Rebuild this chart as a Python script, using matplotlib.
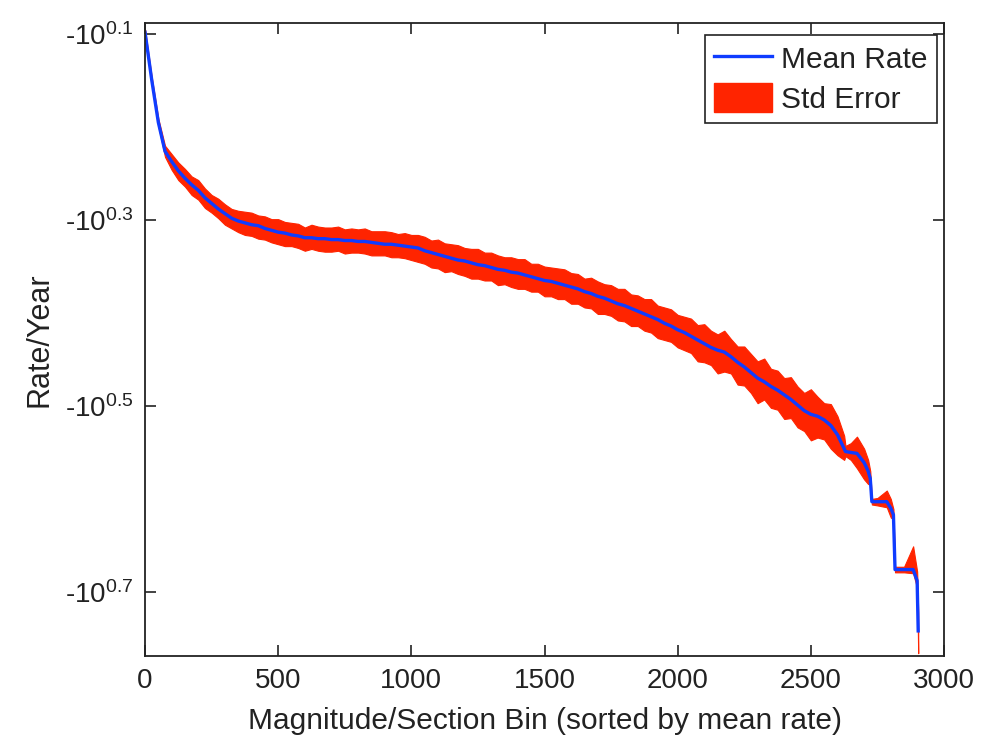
import matplotlib
matplotlib.use("Agg")
import matplotlib.pyplot as plt
import numpy as np
from matplotlib.patches import Patch
from matplotlib.lines import Line2D

plt.rcParams['font.family'] = ['Liberation Sans', 'DejaVu Sans']
plt.rcParams['mathtext.default'] = 'regular'

# bin index (sorted by mean rate)
bins = [0, 25, 50, 75, 100,
        125, 150, 175, 200, 225, 250, 275, 300, 325, 350,
        375, 400, 425, 450, 475, 500, 525, 550, 575, 600, 625, 650, 675,
        700, 725, 750, 775, 800, 825, 850, 875, 900, 925, 950, 975, 1000,
        1025, 1050, 1075, 1100, 1125, 1150, 1175, 1200, 1225, 1250, 1275,
        1300, 1325, 1350, 1375, 1400, 1425, 1450, 1475, 1500,
        1525, 1550, 1575, 1600, 1625, 1650, 1675, 1700, 1725, 1750, 1775,
        1800, 1825, 1850, 1875, 1900, 1925, 1950, 1975, 2000,
        2025, 2050, 2075, 2100, 2125, 2150, 2175, 2200, 2225, 2250, 2275,
        2300, 2325, 2350, 2375, 2400, 2425, 2450, 2475, 2500, 2525, 2550,
        2575, 2600,
        2625, 2630, 2650, 2673, 2700, 2715, 2723, 2729, 2750, 2785, 2800,
        2810, 2816, 2850, 2884, 2899, 2903]

# mean rate, as exponent of 10 (rate = -10^e)
mean_exp = [0.098, 0.149, 0.195, 0.226, 0.237,
            0.247, 0.255, 0.262, 0.268, 0.276, 0.282, 0.288, 0.293, 0.298, 0.301,
            0.303, 0.305, 0.306, 0.309, 0.311, 0.313, 0.314, 0.316, 0.317, 0.319,
            0.319, 0.320, 0.320, 0.321, 0.321, 0.322, 0.322, 0.323, 0.323, 0.324,
            0.325, 0.326, 0.326, 0.327, 0.328, 0.329,
            0.330, 0.333, 0.335, 0.337, 0.339, 0.341, 0.343, 0.344, 0.346, 0.348,
            0.349, 0.351, 0.353, 0.354, 0.356, 0.357, 0.359, 0.361, 0.363, 0.365,
            0.366, 0.368, 0.370, 0.372, 0.374, 0.377, 0.379, 0.382, 0.384, 0.387,
            0.390, 0.392, 0.395, 0.398, 0.401, 0.404, 0.407, 0.411, 0.414, 0.418,
            0.421, 0.425, 0.429, 0.433, 0.437, 0.440, 0.442, 0.447, 0.453, 0.458,
            0.464, 0.470, 0.474, 0.479, 0.483, 0.488, 0.493, 0.499, 0.505, 0.509,
            0.511, 0.515, 0.521, 0.531,
            0.546, 0.549, 0.550, 0.551, 0.561, 0.570, 0.578, 0.603, 0.603, 0.603,
            0.610, 0.617, 0.676, 0.676, 0.676, 0.688, 0.742]

# standard error above / below the mean (same units)
err_hi = [0.003, 0.003, 0.004, 0.006, 0.008,
          0.009, 0.010, 0.009, 0.011, 0.010, 0.009, 0.011, 0.010, 0.010, 0.011,
          0.012, 0.013, 0.011, 0.013, 0.012, 0.014, 0.012, 0.013, 0.013, 0.011,
          0.014, 0.013, 0.012, 0.013, 0.014, 0.012, 0.013, 0.013, 0.014, 0.012,
          0.013, 0.014, 0.013, 0.012, 0.014, 0.013,
          0.014, 0.015, 0.013, 0.016, 0.014, 0.015, 0.016, 0.014, 0.015, 0.017,
          0.014, 0.016, 0.015, 0.014, 0.016, 0.015, 0.017, 0.014, 0.016, 0.015,
          0.015, 0.016, 0.017, 0.015, 0.016, 0.014, 0.017, 0.016, 0.015, 0.017,
          0.016, 0.018, 0.015, 0.017, 0.016, 0.019, 0.015, 0.017, 0.018, 0.016,
          0.017, 0.019, 0.016, 0.021, 0.018, 0.017, 0.023, 0.019, 0.017, 0.022,
          0.020, 0.018, 0.025, 0.019, 0.021, 0.018, 0.024, 0.020, 0.019, 0.027,
          0.021, 0.018, 0.023, 0.020,
          0.014, 0.006, 0.010, 0.018, 0.015, 0.012, 0.008, 0.003, 0.004, 0.012,
          0.010, 0.006, 0.003, 0.003, 0.025, 0.010, 0.020]
err_lo = [0.003, 0.004, 0.004, 0.006, 0.009,
          0.010, 0.009, 0.011, 0.010, 0.011, 0.010, 0.010, 0.012, 0.011, 0.012,
          0.013, 0.012, 0.014, 0.012, 0.013, 0.013, 0.014, 0.012, 0.013, 0.014,
          0.012, 0.013, 0.014, 0.013, 0.012, 0.014, 0.013, 0.012, 0.013, 0.014,
          0.013, 0.012, 0.014, 0.013, 0.013, 0.014,
          0.015, 0.014, 0.016, 0.015, 0.017, 0.014, 0.015, 0.016, 0.017, 0.015,
          0.016, 0.014, 0.017, 0.015, 0.016, 0.017, 0.015, 0.016, 0.014, 0.017,
          0.016, 0.017, 0.015, 0.018, 0.016, 0.017, 0.016, 0.019, 0.017, 0.016,
          0.018, 0.017, 0.019, 0.016, 0.018, 0.017, 0.020, 0.018, 0.017, 0.019,
          0.019, 0.018, 0.023, 0.020, 0.019, 0.025, 0.021, 0.018, 0.024, 0.020,
          0.022, 0.027, 0.019, 0.023, 0.021, 0.026, 0.020, 0.024, 0.022, 0.028,
          0.023, 0.021, 0.025, 0.022,
          0.012, 0.005, 0.008, 0.016, 0.018, 0.014, 0.006, 0.003, 0.004, 0.006,
          0.010, 0.005, 0.003, 0.003, 0.004, 0.008, 0.024]

yticks = [0.1, 0.3, 0.5, 0.7]
xticks = [0, 500, 1000, 1500, 2000, 2500, 3000]

red = '#ff2400'
blue = '#0f3cff'
ink = '#222222'

fig = plt.figure(figsize=(9.88, 7.36), dpi=100)
ax = fig.add_axes([0.1468, 0.1087, 0.8087, 0.8605])

m = np.array(mean_exp)
ax.fill_between(bins, m - np.array(err_hi), m + np.array(err_lo),
                color=red, linewidth=0.8, edgecolor=red)
ax.plot(bins, mean_exp, color=blue, linewidth=2.4)

ax.set_xlim(0, 3000)
ax.set_ylim(0.769, 0.0876)
ax.set_xticks(xticks)
ax.set_xticklabels([str(t) for t in xticks])
ax.set_yticks(yticks)
ax.set_yticklabels(['-10$^{%g}$' % t for t in yticks])
ax.tick_params(direction='in', length=8, width=1.2, top=True, right=True,
               labelsize=20, colors=ink)
ax.tick_params(axis='x', pad=9)
ax.tick_params(axis='y', pad=8)
for s in ax.spines.values():
    s.set_linewidth(1.3)
    s.set_color(ink)

ax.set_xlabel('Magnitude/Section Bin (sorted by mean rate)', fontsize=21.5,
              labelpad=9, color=ink)
ax.set_ylabel('Rate/Year', fontsize=22, labelpad=8, color=ink)

handles = [Line2D([], [], color=blue, linewidth=2.4),
           Patch(facecolor=red, edgecolor=red)]
leg = ax.legend(handles, ['Mean Rate', 'Std Error'], loc='upper right',
                bbox_to_anchor=(0.991, 0.9806), borderaxespad=0, fontsize=21.5,
                frameon=True, fancybox=False, edgecolor=ink, framealpha=1,
                handlelength=1.95, handleheight=1.1, borderpad=0.3,
                labelspacing=0.3, handletextpad=0.3)
leg.get_frame().set_linewidth(1.2)
for t in leg.get_texts():
    t.set_color(ink)

fig.savefig('out.png', dpi=100)
